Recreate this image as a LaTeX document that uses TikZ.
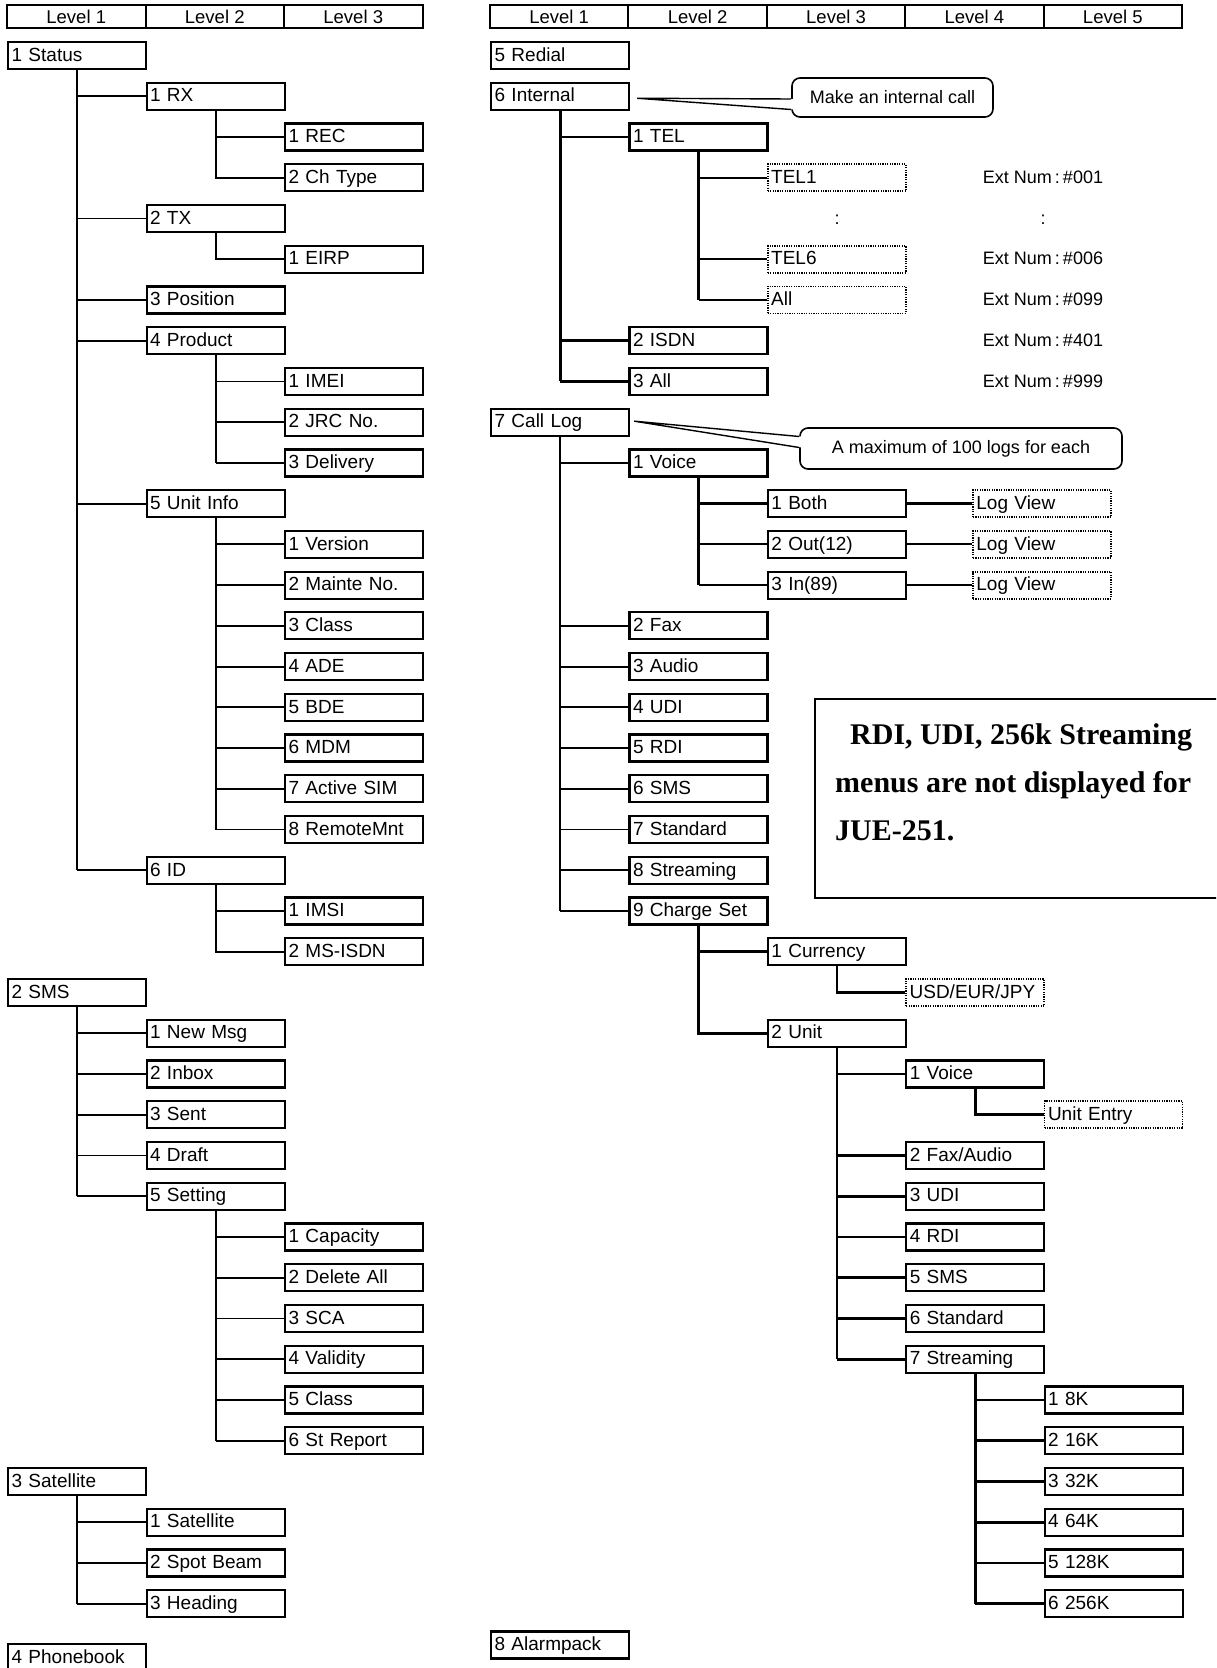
\documentclass[tikz,border=0pt]{standalone}
\usepackage{fontspec}
\setmainfont{Liberation Sans}
\newfontfamily\notefont{Liberation Serif}
\usetikzlibrary{positioning, calc}

% column and row positions (in px of the sheet)
\newcommand{\colL}[1]{7+138.5*(#1)}
\newcommand{\colR}[1]{490+138.4*(#1)}
\newcommand{\rowy}[1]{55.5+40.74*(#1)}

\tikzset{
  menu/.style={draw, line width=2.2pt, anchor=west, minimum height=27pt,
    text width=131pt, inner xsep=3.5pt, inner ysep=0pt, align=left,
    text height=15pt, text depth=3.6pt, font=\fontsize{19}{21}\selectfont},
  optbox/.style={menu, line width=1.8pt, dash pattern=on 1.2pt off 1.2pt},
  hdr/.style={draw, line width=2pt, minimum width=138.5pt, minimum height=23pt,
    inner sep=0pt, text height=13pt, text depth=0pt, font=\fontsize{18.5}{20}\selectfont},
  link/.style={line width=1.8pt},
  linkb/.style={line width=2.8pt},
  bubble/.style={draw, line width=1.6pt, rounded corners=8pt, font=\fontsize{18}{20}\selectfont},
  extnum/.style={text height=15pt, text depth=3.6pt, inner sep=0pt, font=\fontsize{18}{20}\selectfont}
}

\begin{document}
\begin{tikzpicture}[x=1pt, y=-1pt]
  \useasboundingbox (0,0) rectangle (1216,1668);
  \clip (0,0) rectangle (1216,1668);

  % ---------- headers ----------
  \foreach \t [count=\i from 0] in {Level 1, Level 2, Level 3}
    \node[hdr] (hl\i) at ({\colL{\i}+69.25},16.5) {\t};
  \foreach \t [count=\i from 0] in {Level 1, Level 2, Level 3, Level 4, Level 5}
    \node[hdr] (hr\i) at ({\colR{\i}+69.2},16.5) {\t};

  % ---------- 1 Status ----------
  \node[menu] (status) at ({\colL{0}},{\rowy{0}}) {1 Status};
  \node[menu] (rx)     at ({\colL{1}},{\rowy{1}}) {1 RX};
  \node[menu] (rec)    at ({\colL{2}},{\rowy{2}}) {1 REC};
  \node[menu] (chtype) at ({\colL{2}},{\rowy{3}}) {2 Ch Type};
  \node[menu] (tx)     at ({\colL{1}},{\rowy{4}}) {2 TX};
  \node[menu] (eirp)   at ({\colL{2}},{\rowy{5}}) {1 EIRP};
  \node[menu] (posn)   at ({\colL{1}},{\rowy{6}}) {3 Position};
  \node[menu] (prod)   at ({\colL{1}},{\rowy{7}}) {4 Product};
  \foreach \t [count=\i] in {1 IMEI, 2 JRC No., 3 Delivery}
    \node[menu] (pd\i) at ({\colL{2}},{\rowy{\i+7}}) {\t};
  \node[menu] (uinfo)  at ({\colL{1}},{\rowy{11}}) {5 Unit Info};
  \foreach \t [count=\i] in {1 Version, 2 Mainte No., 3 Class, 4 ADE, 5 BDE,
                             6 MDM, 7 Active SIM, 8 RemoteMnt}
    \node[menu] (ui\i) at ({\colL{2}},{\rowy{\i+11}}) {\t};
  \node[menu] (idm)    at ({\colL{1}},{\rowy{20}}) {6 ID};
  \node[menu] (id1)    at ({\colL{2}},{\rowy{21}}) {1 IMSI};
  \node[menu] (id2)    at ({\colL{2}},{\rowy{22}}) {2 MS-ISDN};

  \draw[link] (status.south) -- (status.south |- idm.west);
  \foreach \c in {rx, tx, posn, prod, uinfo, idm}
    \draw[link] (status.south |- \c.west) -- (\c.west);
  \draw[link] (rx.south) |- (chtype.west);
  \draw[link] (rx.south |- rec.west) -- (rec.west);
  \draw[link] (tx.south) |- (eirp.west);
  \draw[link] (prod.south) -- (prod.south |- pd3.west);
  \foreach \i in {1,2,3}
    \draw[link] (prod.south |- pd\i.west) -- (pd\i.west);
  \draw[link] (uinfo.south) -- (uinfo.south |- ui8.west);
  \foreach \i in {1,...,8}
    \draw[link] (uinfo.south |- ui\i.west) -- (ui\i.west);
  \draw[link] (idm.south) |- (id2.west);
  \draw[link] (idm.south |- id1.west) -- (id1.west);

  % ---------- 2 SMS ----------
  \node[menu] (sms) at ({\colL{0}},{\rowy{23}}) {2 SMS};
  \foreach \t [count=\i] in {1 New Msg, 2 Inbox, 3 Sent, 4 Draft, 5 Setting}
    \node[menu] (sm\i) at ({\colL{1}},{\rowy{\i+23}}) {\t};
  \foreach \t [count=\i] in {1 Capacity, 2 Delete All, 3 SCA, 4 Validity, 5 Class, 6 St Report}
    \node[menu] (st\i) at ({\colL{2}},{\rowy{\i+28}}) {\t};
  \draw[link] (sms.south) -- (sms.south |- sm5.west);
  \foreach \i in {1,...,5}
    \draw[link] (sms.south |- sm\i.west) -- (sm\i.west);
  \draw[link] (sm5.south) -- (sm5.south |- st6.west);
  \foreach \i in {1,...,6}
    \draw[link] (sm5.south |- st\i.west) -- (st\i.west);

  % ---------- 3 Satellite / 4 Phonebook ----------
  \node[menu] (sat) at ({\colL{0}},{\rowy{35}}) {3 Satellite};
  \foreach \t [count=\i] in {1 Satellite, 2 Spot Beam, 3 Heading}
    \node[menu] (sa\i) at ({\colL{1}},{\rowy{\i+35}}) {\t};
  \draw[link] (sat.south) -- (sat.south |- sa3.west);
  \foreach \i in {1,2,3}
    \draw[link] (sat.south |- sa\i.west) -- (sa\i.west);
  \node[menu] (phone) at ({\colL{0}},1657.5) {4 Phonebook};

  % ---------- 5 Redial / 6 Internal ----------
  \node[menu] (redial)   at ({\colR{0}},{\rowy{0}}) {5 Redial};
  \node[menu] (internal) at ({\colR{0}},{\rowy{1}}) {6 Internal};
  \node[menu] (tel)      at ({\colR{1}},{\rowy{2}}) {1 TEL};
  \node[optbox] (tel1)   at ({\colR{2}},{\rowy{3}}) {TEL1};
  \node[optbox] (tel6)   at ({\colR{2}},{\rowy{5}}) {TEL6};
  \node[optbox] (telall) at ({\colR{2}},{\rowy{6}}) {All};
  \node[menu] (isdn)     at ({\colR{1}},{\rowy{7}}) {2 ISDN};
  \node[menu] (allc)     at ({\colR{1}},{\rowy{8}}) {3 All};
  \node[extnum] (vd1) at (837,{\rowy{4}}) {:};
  \node[extnum] (vd2) at (1043,{\rowy{4}}) {:};
  \foreach \n/\r [count=\i] in {001/3, 006/5, 099/6, 401/7, 999/8}
    \node[extnum] (en\i) at (1043,{\rowy{\r}}) {Ext Num\,:\,\#\n};

  \draw[linkb] (internal.south) -- (internal.south |- allc.west);
  \foreach \c in {tel, isdn, allc}
    \draw[linkb] (internal.south |- \c.west) -- (\c.west);
  \draw[linkb] (tel.south) -- (tel.south |- telall.west);
  \foreach \c in {tel1, tel6, telall}
    \draw[link] (tel.south |- \c.west) -- (\c.west);

  % callout: internal call
  \node[bubble, minimum width=201pt, minimum height=39pt] (call1) at (892.5,97.5) {Make an internal call};
  \coordinate (tip1) at ([xshift=7pt,yshift=-2pt]internal.east);
  \fill[white] (tip1) -- ([xshift=2pt,yshift=-1.5pt]call1.west) -- ([xshift=2pt,yshift=-12pt]call1.west) -- cycle;
  \draw[line width=1.4pt] (tip1) -- ([yshift=-1.5pt]call1.west)
                          (tip1) -- ([yshift=-12pt]call1.west);

  % ---------- 7 Call Log ----------
  \node[menu] (calllog) at ({\colR{0}},{\rowy{9}}) {7 Call Log};
  \node[menu] (voice)   at ({\colR{1}},{\rowy{10}}) {1 Voice};
  \foreach \t [count=\i] in {1 Both, 2 Out(12), 3 In(89)} {
    \node[menu] (vo\i) at ({\colR{2}},{\rowy{\i+10}}) {\t};
    \node[optbox] (lv\i) at (972,{\rowy{\i+10}}) {Log View};
  }
  \foreach \t [count=\i from 2] in {2 Fax, 3 Audio, 4 UDI, 5 RDI, 6 SMS,
                                    7 Standard, 8 Streaming, 9 Charge Set}
    \node[menu] (cl\i) at ({\colR{1}},{\rowy{\i+12}}) {\t};

  \draw[link] (calllog.south) -- (calllog.south |- cl9.west);
  \draw[link] (calllog.south |- voice.west) -- (voice.west);
  \foreach \i in {2,...,9}
    \draw[link] (calllog.south |- cl\i.west) -- (cl\i.west);
  \draw[linkb] (voice.south) -- (voice.south |- vo3.west);
  \draw[linkb] (voice.south |- vo1.west) -- (vo1.west);
  \draw[link] (voice.south |- vo2.west) -- (vo2.west);
  \draw[link] (voice.south |- vo3.west) -- (vo3.west);
  \draw[linkb] (vo1.east) -- (lv1.west);
  \draw[link] (vo2.east) -- (lv2.west);
  \draw[link] (vo3.east) -- (lv3.west);

  % callout: log count
  \node[bubble, minimum width=322pt, minimum height=41pt] (call2) at (961,448.5) {A maximum of 100 logs for each};
  \coordinate (tip2) at ([xshift=4pt,yshift=1pt]calllog.east);
  \fill[white] (tip2) -- ([xshift=2pt,yshift=12pt]call2.west) -- ([xshift=2pt,yshift=1pt]call2.west) -- cycle;
  \draw[line width=1.4pt] (tip2) -- ([yshift=12pt]call2.west)
                          (tip2) -- ([yshift=1pt]call2.west);

  % ---------- 9 Charge Set ----------
  \node[menu] (currency) at ({\colR{2}},{\rowy{22}}) {1 Currency};
  \node[optbox] (usd)    at ({\colR{3}},{\rowy{23}}) {USD/EUR/JPY};
  \node[menu] (unit)     at ({\colR{2}},{\rowy{24}}) {2 Unit};
  \node[menu] (uvoice)   at ({\colR{3}},{\rowy{25}}) {1 Voice};
  \node[optbox] (uentry) at ({\colR{4}},{\rowy{26}}) {Unit Entry};
  \foreach \t [count=\i from 2] in {{2 Fax/Audio}, 3 UDI, 4 RDI, 5 SMS, 6 Standard, 7 Streaming}
    \node[menu] (un\i) at ({\colR{3}},{\rowy{\i+25}}) {\t};
  \foreach \t [count=\i] in {1 8K, 2 16K, 3 32K, 4 64K, 5 128K, 6 256K}
    \node[menu] (sr\i) at ({\colR{4}},{\rowy{\i+32}}) {\t};

  \draw[linkb] (cl9.south) |- (unit.west);
  \draw[linkb] (cl9.south |- currency.west) -- (currency.west);
  \draw[linkb] (currency.south) |- (usd.west);
  \draw[linkb] (unit.south) -- (unit.south |- un7.west);
  \draw[linkb] (unit.south |- uvoice.west) -- (uvoice.west);
  \foreach \i in {2,...,7}
    \draw[linkb] (unit.south |- un\i.west) -- (un\i.west);
  \draw[linkb] (uvoice.south) |- (uentry.west);
  \draw[linkb] (un7.south) -- (un7.south |- sr6.west);
  \foreach \i in {1,...,6}
    \draw[linkb] (un7.south |- sr\i.west) -- (sr\i.west);

  % ---------- 8 Alarmpack ----------
  \node[menu] (alarm) at ({\colR{0}},1645) {8 Alarmpack};

  % ---------- note ----------
  \node[draw, line width=1.6pt, anchor=north west, minimum width=430pt, minimum height=199pt] (jue) at (814,698) {};
  \node[anchor=north west, align=left, inner sep=0pt,
        font=\notefont\bfseries\fontsize{30}{48}\selectfont] (juetxt) at (835,723)
    {\hspace{15pt}RDI, UDI, 256k Streaming\\menus are not displayed for\\JUE-251.};

\end{tikzpicture}
\end{document}
